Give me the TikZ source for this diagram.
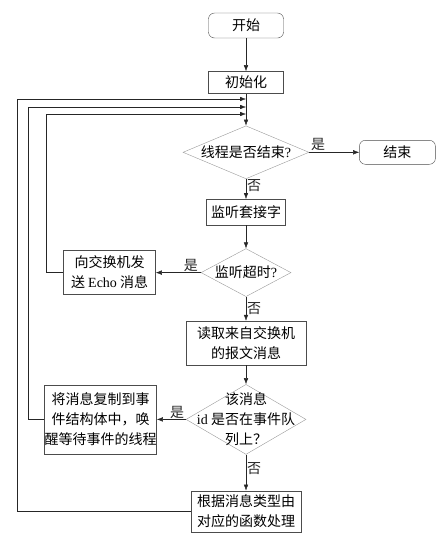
\documentclass[tikz,border=0pt]{standalone}
\usepackage{fontspec}
\setmainfont{Liberation Serif}
\newfontfamily\cjk{Noto Sans CJK SC}
\usepackage{tikz}
\usetikzlibrary{arrows.meta, shapes.geometric, positioning}

\newcommand{\zhfont}{\cjk\fontsize{14}{20}\selectfont}
\newcommand{\en}[1]{{\rmfamily #1}}

\begin{document}
\begin{tikzpicture}[
    x=1pt, y=1pt,
    box/.style={draw=black!70, rectangle, align=center, inner sep=0pt, font=\zhfont},
    term/.style={box, rounded corners=6pt},
    dia/.style={draw=black!40, diamond, inner sep=0pt},
    every label/.style={font=\zhfont, align=center, inner sep=0pt},
    arr/.style={-{Latex[length=6pt,width=4.5pt]}, black!85},
    lab/.style={font=\zhfont, inner sep=1pt}
  ]
  \useasboundingbox (0,0) rectangle (439,-539);

  \node[term, minimum width=75pt, minimum height=25pt] (start) at (246,-25.5) {开始};
  \node[box, minimum width=75pt, minimum height=22pt, below=33pt of start] (init) {初始化};
  \node[dia, minimum width=126pt, minimum height=53pt, below=32pt of init,
        label=center:{线程是否结束\en{?}}] (d1) {};
  \node[term, minimum width=76pt, minimum height=24pt, right=50pt of d1] (end) {结束};
  \node[box, minimum width=79pt, minimum height=26pt, below=20pt of d1] (listen) {监听套接字};
  \node[dia, minimum width=90pt, minimum height=48pt, below=23pt of listen,
        label=center:{监听超时\en{?}}] (d2) {};
  \node[box, minimum width=92pt, minimum height=44pt, left=45pt of d2] (echo) {向交换机发\\送 \en{Echo} 消息};
  \node[box, minimum width=120pt, minimum height=44pt, below=24pt of d2] (read) {读取来自交换机\\的报文消息};
  \node[dia, minimum width=120pt, minimum height=70pt, below=19pt of read,
        label=center:{该消息\\\en{id} 是否在事件队\\列上？}] (d3) {};
  \node[box, minimum width=109pt, minimum height=69pt, left=29pt of d3] (copy) {将消息复制到事\\件结构体中，唤\\醒等待事件的线程};
  \node[box, minimum width=110pt, minimum height=41pt, below=36pt of d3] (final) {根据消息类型由\\对应的函数处理};

  % joins on the line into the first test
  \coordinate (in1) at (246,-99);
  \coordinate (in2) at (246,-107);
  \coordinate (in3) at (246,-114);

  \draw[arr] (start) -- (init);
  \draw[arr] (init) -- (d1);
  \draw[arr] (d1) -- node[lab, above, pos=0.18] {是} (end);
  \draw[arr] (d1) -- node[lab, right, pos=0.35] {否} (listen);
  \draw[arr] (listen) -- (d2);
  \draw[arr] (d2) -- node[lab, above, pos=0.22] {是} (echo);
  \draw[arr] (d2) -- node[lab, right, pos=0.5] {否} (read);
  \draw[arr] (read) -- (d3);
  \draw[arr] (d3) -- node[lab, above, pos=0.3] {是} (copy);
  \draw[arr] (d3) -- node[lab, right, pos=0.4] {否} (final);

  % back to the loop start
  \draw[arr] (echo.west) -- ++(-17,0) |- (in3);
  \draw[arr] (copy.west) -- ++(-16,0) |- (in2);
  \draw[arr] (final.west) -- ++(-174,0) |- (in1);
\end{tikzpicture}
\end{document}
